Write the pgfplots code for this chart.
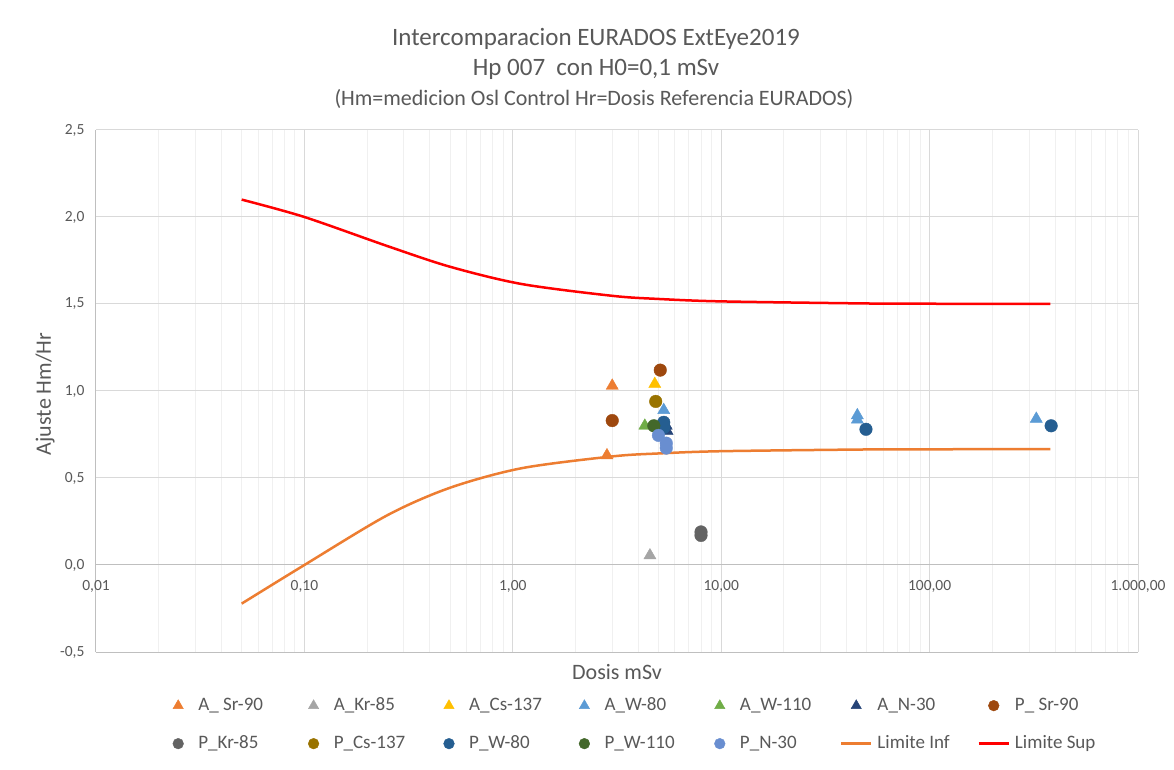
\documentclass[border=0pt]{standalone}
\usepackage{pgfplots}
\pgfplotsset{compat=1.18}
\usepackage{fontspec}
\setmainfont{Carlito}
\definecolor{txt}{HTML}{595959}
\definecolor{gmaj}{HTML}{D9D9D9}
\definecolor{gmin}{HTML}{F0F0F0}
\definecolor{axl}{HTML}{BFBFBF}
\definecolor{cASr}{HTML}{ED7D31}
\definecolor{cAKr}{HTML}{A5A5A5}
\definecolor{cACs}{HTML}{FFC000}
\definecolor{cAW8}{HTML}{5B9BD5}
\definecolor{cAW1}{HTML}{70AD47}
\definecolor{cAN}{HTML}{264478}
\definecolor{cPSr}{HTML}{9E480E}
\definecolor{cPKr}{HTML}{636363}
\definecolor{cPCs}{HTML}{997300}
\definecolor{cPW8}{HTML}{255E91}
\definecolor{cPW1}{HTML}{43682B}
\definecolor{cPN}{HTML}{698ED0}
\definecolor{cInf}{HTML}{ED7D31}
\definecolor{cSup}{HTML}{FF0000}
\newcommand\lt[1]{\makebox[100pt][l]{#1}}
\begin{document}
\begin{tikzpicture}[x=1pt,y=1pt]
\path[use as bounding box, fill=white] (-96,-118) rectangle (1078,652);
\begin{axis}[
  at={(0pt,0pt)}, anchor=south west,
  scale only axis, width=1042pt, height=522pt,
  xmode=log, xmin=0.01, xmax=1000, ymin=-0.5, ymax=2.5,
  axis x line*=bottom, axis y line*=left,
  axis line style={draw=axl, line width=1pt},
  xtick={0.01,0.1,1,10,100,1000},
  xticklabels={{0,01},{0,10},{1,00},{10,00},{100,00},{1.000,00}},
  minor xtick={0.02,0.03,0.04,0.05,0.06,0.07,0.08,0.09,0.2,0.3,0.4,0.5,0.6,0.7,0.8,0.9,2,3,4,5,6,7,8,9,20,30,40,50,60,70,80,90,200,300,400,500,600,700,800,900},
  ytick={-0.5,0,0.5,1,1.5,2,2.5},
  yticklabels={{-0,5},{0,0},{0,5},{1,0},{1,5},{2,0},{2,5}},
  extra y ticks={0}, extra y tick labels={},
  extra y tick style={major grid style={draw=axl, line width=1pt}},
  xmajorgrids, xminorgrids, ymajorgrids,
  major grid style={draw=gmaj, line width=1pt},
  minor grid style={draw=gmin, line width=1pt},
  major tick length=0pt, minor tick length=0pt,
  tick label style={font=\fontsize{15.5}{18}\selectfont, text=txt},
  xticklabel style={yshift=75pt},
  yticklabel style={xshift=-8pt},
  legend columns=7,
  legend cell align=left,
  legend image code/.code={\path (0pt,-5pt) (30pt,5pt);\draw[mark repeat=2,mark phase=2,#1] plot coordinates {(0pt,0pt) (15pt,0pt) (30pt,0pt)};},
  legend image post style={mark options={scale=0.85}},
  legend style={draw=none, fill=none, at={(0.0643,-0.0865)}, anchor=north west,
     inner sep=0pt, outer sep=0pt, font=\fontsize{19}{22}\selectfont, text=txt,
     nodes={inner sep=0pt, text height=13pt, text depth=4pt},
     row sep=21pt,
     /tikz/every odd column/.append style={column sep=5pt},
     /tikz/every even column/.append style={column sep=0pt}},
]
\addplot[only marks, mark=triangle*, mark size=7pt, color=cASr] coordinates {(3.0,1.03) (2.83,0.63)};
\addlegendentry{\lt{A\_ Sr-90}}
\addplot[only marks, mark=triangle*, mark size=7pt, color=cAKr] coordinates {(4.55,0.055)};
\addlegendentry{\lt{A\_Kr-85}}
\addplot[only marks, mark=triangle*, mark size=7pt, color=cACs] coordinates {(4.8,1.04)};
\addlegendentry{\lt{A\_Cs-137}}
\addplot[only marks, mark=triangle*, mark size=7pt, color=cAW8] coordinates {(5.3,0.89) (45,0.86) (45,0.835) (325,0.84)};
\addlegendentry{\lt{A\_W-80}}
\addplot[only marks, mark=triangle*, mark size=7pt, color=cAW1] coordinates {(4.3,0.80)};
\addlegendentry{\lt{A\_W-110}}
\addplot[only marks, mark=triangle*, mark size=7pt, color=cAN] coordinates {(5.45,0.80) (5.5,0.77)};
\addlegendentry{\lt{A\_N-30}}
\addplot[only marks, mark=*, mark size=6.3pt, color=cPSr] coordinates {(3.0,0.83) (5.1,1.12)};
\addlegendentry{\lt{P\_ Sr-90}}
\addplot[only marks, mark=*, mark size=6.3pt, color=cPKr] coordinates {(8.0,0.19) (8.0,0.17)};
\addlegendentry{\lt{P\_Kr-85}}
\addplot[only marks, mark=*, mark size=6.3pt, color=cPCs] coordinates {(4.85,0.94)};
\addlegendentry{\lt{P\_Cs-137}}
\addplot[only marks, mark=*, mark size=6.3pt, color=cPW8] coordinates {(5.3,0.82) (5.3,0.79) (49.5,0.78) (383,0.80)};
\addlegendentry{\lt{P\_W-80}}
\addplot[only marks, mark=*, mark size=6.3pt, color=cPW1] coordinates {(4.75,0.80)};
\addlegendentry{\lt{P\_W-110}}
\addplot[only marks, mark=*, mark size=6.3pt, color=cPN] coordinates {(5.0,0.745) (5.45,0.70) (5.45,0.672)};
\addlegendentry{\lt{P\_N-30}}
\addplot[smooth, no marks, line width=2.5pt, color=cInf] coordinates {
 (0.05,-0.222) (0.1,0) (0.25,0.286) (0.5,0.444) (1.1,0.556) (3,0.624) (5,0.641) (10,0.654) (50,0.664) (100,0.665) (380,0.666)};
\addlegendentry{\lt{Limite Inf}}
\addplot[smooth, no marks, line width=2.5pt, color=cSup] coordinates {
 (0.05,2.1) (0.1,2.0) (0.25,1.833) (0.5,1.714) (1.1,1.615) (3,1.547) (5,1.529) (10,1.515) (50,1.503) (100,1.5015) (380,1.5004)};
\addlegendentry{\lt{Limite Sup}}
\end{axis}
\node[font=\fontsize{25}{30}\selectfont, text=txt, anchor=base] at (500,606) {Intercomparacion EURADOS ExtEye2019};
\node[font=\fontsize{25}{30}\selectfont, text=txt, anchor=base] at (500,576) {Hp 007\ \ con H0=0,1 mSv};
\node[font=\fontsize{22}{26}\selectfont, text=txt, anchor=base] at (498,546) {(Hm=medicion Osl Control Hr=Dosis Referencia EURADOS)};
\node[font=\fontsize{22}{26}\selectfont, text=txt] at (521,-20) {Dosis mSv};
\node[font=\fontsize{22}{26}\selectfont, text=txt, rotate=90] at (-51,258) {Ajuste Hm/Hr};
\end{tikzpicture}
\end{document}
